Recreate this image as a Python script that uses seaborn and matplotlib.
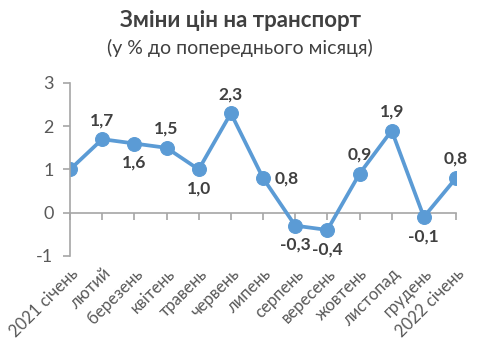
import numpy as np
import matplotlib
matplotlib.use("Agg")
import matplotlib.pyplot as plt
import pandas as pd
import seaborn as sns

months = ["2021 січень", "лютий", "березень", "квітень", "травень", "червень",
          "липень", "серпень", "вересень", "жовтень", "листопад", "грудень",
          "2022 січень"]
values = [1.0, 1.7, 1.6, 1.5, 1.0, 2.3, 0.8, -0.3, -0.4, 0.9, 1.9, -0.1, 0.8]
# where each data label sits relative to its point (None = no label)
label_pos = [None, "up", "down", "up", "down", "up", "right", "down", "down",
             "up", "up", "down", "up"]

sns.set_style("white")
plt.rcParams['font.family'] = ['Lato', 'DejaVu Sans']

blue = "#5B9BD5"
grey = "#A6A6A6"
txt = "#595959"

df = pd.DataFrame({"idx": np.arange(len(months)), "value": values})

fig = plt.figure(figsize=(4.8, 3.64), dpi=100)
ax = fig.add_axes([0.146, 0.297, 0.804, 0.475])

sns.lineplot(data=df, x="idx", y="value", ax=ax, color=blue, linewidth=2.7,
             marker="o", markersize=10, markeredgecolor=blue)

ax.set_xlim(0, len(months) - 1)
ax.set_ylim(-1, 3)
ax.set_yticks([-1, 0, 1, 2, 3])
ax.set_yticklabels(["-1", "0", "1", "2", "3"])
ax.set_xlabel("")
ax.set_ylabel("")

for s in ["top", "right", "bottom"]:
    ax.spines[s].set_visible(False)
ax.spines["left"].set_color(grey)
ax.spines["left"].set_linewidth(1.2)
ax.tick_params(axis="y", colors=grey, length=5, width=1.2, labelsize=13,
               labelcolor=txt, pad=7, left=True)

# category labels at the bottom, no ticks
ax.set_xticks(df["idx"])
ax.set_xticklabels(months, rotation=45, ha="right", rotation_mode="anchor")
ax.tick_params(axis="x", length=0, labelsize=12, labelcolor=txt, pad=7)

# x axis line with ticks at zero
sec = ax.secondary_xaxis(0.25)
sec.set_xticks(df["idx"])
sec.set_xticklabels([])
sec.spines["bottom"].set_color(grey)
sec.spines["bottom"].set_linewidth(1.2)
sec.tick_params(axis="x", colors=grey, length=5, width=1.2, direction="out")

offsets = {"up": (0, 8, "center", "bottom"),
           "down": (0, -8, "center", "top"),
           "right": (8, 0, "left", "center")}
for i, (v, p) in enumerate(zip(values, label_pos)):
    if p is None:
        continue
    dx, dy, ha, va = offsets[p]
    ax.annotate(f"{v:.1f}".replace(".", ","), (i, v), xytext=(dx, dy),
                textcoords="offset points", ha=ha, va=va, fontsize=12.5,
                fontweight="bold", color="#404040")

fig.text(0.5, 0.945, "Зміни цін на транспорт", ha="center", va="center",
         fontsize=16, fontweight="bold", color="#404040")
fig.text(0.5, 0.868, "(у % до попереднього місяця)", ha="center",
         va="center", fontsize=14, color="#404040")

fig.savefig("out.png", dpi=100)
